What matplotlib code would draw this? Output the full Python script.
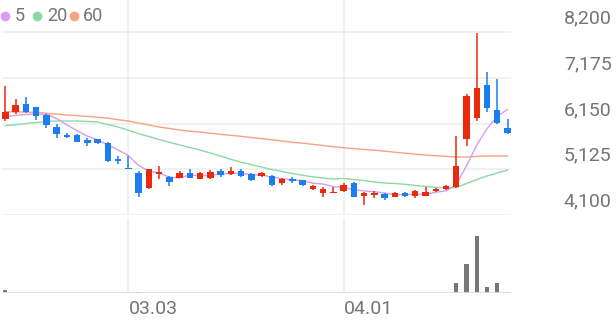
import numpy as np
import matplotlib.pyplot as plt
from matplotlib.lines import Line2D

plt.rcParams['font.family'] = ['Roboto', 'DejaVu Sans']

# daily candles (KRW)
opens = [6250, 6400, 6590, 6510, 6340, 6080, 5890, 5890, 5770, 5800,
         5720, 5350, 5140, 5030, 4700, 5010, 4960, 4930, 5050, 4910,
         4920, 5090, 5020, 5090, 5010, 4970, 4970, 4820, 4900, 4880,
         4680, 4590, 4590, 4640, 4820, 4530, 4550, 4570, 4510, 4600,
         4530, 4530, 4640, 4680, 4720, 5800, 6280, 7010, 6450, 6040]
highs = [6990, 6710, 6740, 6530, 6360, 6140, 5940, 5910, 5830, 5800,
         5730, 5420, 5420, 5080, 5140, 5190, 4980, 5090, 5140, 5060,
         5110, 5130, 5180, 5140, 5030, 5060, 4990, 4920, 4960, 4890,
         4770, 4720, 4730, 4810, 4840, 4620, 4640, 4600, 4610, 4620,
         4660, 4730, 4700, 4770, 5880, 6800, 8170, 7300, 7140, 6260]
lows = [6210, 6360, 6380, 6230, 6060, 5820, 5830, 5730, 5650, 5690,
        5290, 5240, 5120, 4510, 4690, 4910, 4750, 4920, 4930, 4900,
        4900, 4960, 5000, 4960, 4870, 4960, 4760, 4770, 4810, 4750,
        4660, 4510, 4590, 4610, 4500, 4320, 4490, 4440, 4500, 4510,
        4470, 4530, 4620, 4650, 4710, 5650, 6210, 6410, 6150, 5910]
closes = [6410, 6560, 6400, 6320, 6120, 5910, 5850, 5740, 5720, 5710,
          5320, 5300, 5120, 4590, 5120, 5060, 4850, 5030, 4930, 5050,
          5070, 5000, 5090, 4970, 4890, 5030, 4770, 4910, 4860, 4770,
          4750, 4680, 4620, 4780, 4510, 4600, 4600, 4470, 4590, 4530,
          4630, 4620, 4680, 4750, 5200, 6770, 6950, 6490, 6170, 5930]

# moving averages as drawn
ma5 = [6302, 6334, 6352, 6356, 6362, 6262, 6120, 5988, 5868, 5786,
       5668, 5558, 5434, 5208, 5090, 5038, 4948, 4930, 4998, 4984,
       4986, 5016, 5028, 5036, 5004, 4996, 4950, 4914, 4892, 4868,
       4812, 4794, 4736, 4720, 4668, 4638, 4622, 4592, 4554, 4558,
       4564, 4568, 4610, 4642, 4776, 5204, 5670, 6032, 6316, 6462]
ma20 = [6101, 6123, 6150, 6172, 6195, 6206, 6206, 6206, 6195, 6184,
        6128, 6072, 5998, 5922, 5859, 5792, 5729, 5669, 5612, 5556,
        5489, 5422, 5348, 5281, 5231, 5175, 5119, 5075, 5030, 4990,
        4956, 4929, 4907, 4918, 4895, 4873, 4839, 4817, 4806, 4788,
        4761, 4743, 4721, 4705, 4716, 4806, 4895, 4974, 5041, 5108]
ma60 = [6414, 6410, 6406, 6397, 6379, 6359, 6341, 6325, 6309, 6291,
        6269, 6235, 6206, 6161, 6117, 6072, 6038, 6005, 5975, 5960,
        5933, 5906, 5886, 5863, 5837, 5810, 5785, 5758, 5731, 5709,
        5684, 5657, 5628, 5608, 5586, 5568, 5552, 5530, 5507, 5485,
        5462, 5444, 5429, 5415, 5399, 5399, 5415, 5422, 5422, 5422]

# volume, thousand shares
volumes = [330, 60, 50, 70, 60, 50, 60, 50, 60, 70,
           60, 50, 60, 100, 70, 60, 50, 60, 50, 60,
           50, 60, 50, 40, 50, 60, 50, 40, 50, 40,
           50, 40, 50, 60, 50, 50, 40, 50, 40, 40,
           50, 50, 40, 60, 1000, 2900, 5800, 670, 1000, 100]

price_ticks = [4100, 5125, 6150, 7175, 8200]
date_idx = [12, 33]
date_labels = ['03.03', '04.01']
ma_names = ['5', '20', '60']

RED = '#e8290b'
BLUE = '#1b7ef0'
MA_COLORS = ['#d99cf0', '#8ed8a3', '#f8a27f']
TXT = '#757575'
GRID = '#efefef'

x = np.arange(len(closes))
o = np.array(opens)
c = np.array(closes)
up = c >= o
colors = np.where(up, RED, BLUE)

fig = plt.figure(figsize=(6.16, 3.21), dpi=100)
ax = fig.add_axes([0, 106 / 321, 511 / 616, 215 / 321])
axv = fig.add_axes([0, 27.7 / 321, 511 / 616, 75.3 / 321], sharex=ax)

for a in (ax, axv):
    for s in a.spines.values():
        s.set_visible(False)
    a.tick_params(left=False, bottom=False, labelleft=False, labelbottom=False)
    for i in date_idx:
        a.axvline(i, color=GRID, lw=1.2, zorder=0)

ax.set_xlim(-0.517, 49.34)
ax.set_ylim(4100, 8917)
for p in price_ticks:
    ax.axhline(p, xmin=0.005, color=GRID, lw=1.2, zorder=0)
    ax.annotate(f'{p:,}', xy=(1, p), xycoords=('axes fraction', 'data'),
                xytext=(72.5, 9.7), textcoords='offset points',
                ha='right', va='center', fontsize=14, color=TXT,
                annotation_clip=False)

# moving averages
for vals, col in zip([ma60, ma20, ma5], MA_COLORS[::-1]):
    ax.plot(x, vals, color=col, lw=1.0, zorder=2)

# candles
ax.vlines(x, lows, highs, colors=colors, lw=1.1, zorder=3)
body_lo = np.minimum(o, c)
body_h = np.maximum(np.abs(c - o), 25)
ax.bar(x, body_h, bottom=body_lo, width=0.63, color=colors, zorder=4)

# volume
axv.set_ylim(0, 7582)
axv.bar(x, volumes, width=0.4, color='#777777', zorder=2)
axv.axhline(0, xmin=0.005, color='#dddddd', lw=1.3, zorder=3)
for i, lab in zip(date_idx, date_labels):
    axv.annotate(lab, xy=(i, 0), xycoords=('data', 'axes fraction'),
                 xytext=(0.3, -11.3), textcoords='offset points',
                 ha='left', va='center', fontsize=14, color=TXT,
                 annotation_clip=False)

# legend
for name, col, dx, tx in zip(ma_names, MA_COLORS, [5, 37, 74], [15, 46.7, 83.3]):
    fig.add_artist(Line2D([dx / 616], [1 - 15.7 / 321], marker='o', markersize=6,
                          color=col, transform=fig.transFigure))
    fig.text(tx / 616, 1 - 15.8 / 321, name, fontsize=13, color=TXT,
             ha='left', va='center')

fig.savefig('out.png', dpi=100)
